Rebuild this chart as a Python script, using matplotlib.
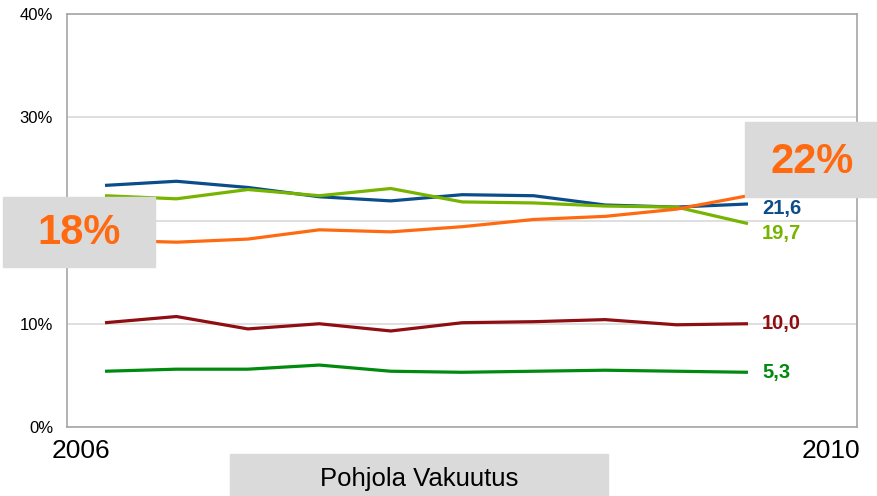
import matplotlib
matplotlib.use('Agg')
import matplotlib.pyplot as plt
from matplotlib.patches import Rectangle

plt.rcParams['font.family'] = ['Liberation Sans', 'DejaVu Sans']

# Half-year points from 2006 to 2010
periods = list(range(10))

blue_vals = [23.4, 23.8, 23.2, 22.3, 21.9, 22.5, 22.4, 21.5, 21.3, 21.6]
lime_vals = [22.4, 22.1, 23.0, 22.4, 23.1, 21.8, 21.7, 21.4, 21.3, 19.7]
orange_vals = [18.1, 17.9, 18.2, 19.1, 18.9, 19.4, 20.1, 20.4, 21.1, 22.4]
red_vals = [10.1, 10.7, 9.5, 10.0, 9.3, 10.1, 10.2, 10.4, 9.9, 10.0]
green_vals = [5.4, 5.6, 5.6, 6.0, 5.4, 5.3, 5.4, 5.5, 5.4, 5.3]

# the 20% label sits under the start box, so it is left empty
y_ticks = [0, 10, 20, 30, 40]
y_tick_labels = ['0%', '10%', '', '30%', '40%']

fig = plt.figure(figsize=(8.77, 4.96), dpi=100)
ax = fig.add_axes([67 / 877, 69 / 496, 790 / 877, 413 / 496])

series = [
    (blue_vals, '#0B4C8A', '21,6', -5),
    (lime_vals, '#76B400', '19,7', -10),
    (orange_vals, '#FF6A10', None, 0),
    (red_vals, '#8E0E12', '10,0', 0),
    (green_vals, '#008A0E', '5,3', 0),
]
for vals, color, label, dy in series:
    ax.plot(periods, vals, color=color, lw=2.3, solid_capstyle='butt', zorder=3)
    if label:
        ax.annotate(label, xy=(periods[-1], vals[-1]), xytext=(14, dy),
                    textcoords='offset pixels', color=color, fontsize=14.5,
                    fontweight='bold', ha='left', va='center')

ax.set_xlim(-0.532, 10.526)
ax.set_ylim(0, 40)
ax.set_xticks([])
ax.set_yticks(y_ticks)
ax.set_yticklabels(y_tick_labels, fontsize=12)
ax.tick_params(axis='y', length=0, pad=10)
ax.grid(axis='y', color='#D9D9D9', lw=1.2, zorder=0)
for side in ['left', 'right', 'top', 'bottom']:
    ax.spines[side].set_color('#A6A6A6')
    ax.spines[side].set_linewidth(1.2)

# Year labels under the axis ends
fig.text(52 / 877, 1 - 451 / 496, '2006', fontsize=19, ha='left', va='center')
fig.text(860 / 877, 1 - 451 / 496, '2010', fontsize=19, ha='right', va='center')

# Company name box
fig.add_artist(Rectangle((230 / 877, 0), 378 / 877, 42 / 496,
                         transform=fig.transFigure, color='#DADADA', zorder=5))
fig.text(419 / 877, 1 - 479 / 496, 'Pohjola Vakuutus', fontsize=18.5,
         ha='center', va='center', zorder=6)

# Start and end share boxes
fig.add_artist(Rectangle((3 / 877, 1 - 267 / 496), 152 / 877, 70 / 496,
                         transform=fig.transFigure, color='#DADADA', zorder=5))
fig.text(79 / 877, 1 - 233 / 496, '18%', fontsize=30, fontweight='bold',
         color='#FF6A10', ha='center', va='center', zorder=6)
fig.add_artist(Rectangle((745 / 877, 1 - 197 / 496), 132 / 877, 75 / 496,
                         transform=fig.transFigure, color='#DADADA', zorder=5))
fig.text(812 / 877, 1 - 162 / 496, '22%', fontsize=30, fontweight='bold',
         color='#FF6A10', ha='center', va='center', zorder=6)

fig.savefig('out.png', dpi=100)
